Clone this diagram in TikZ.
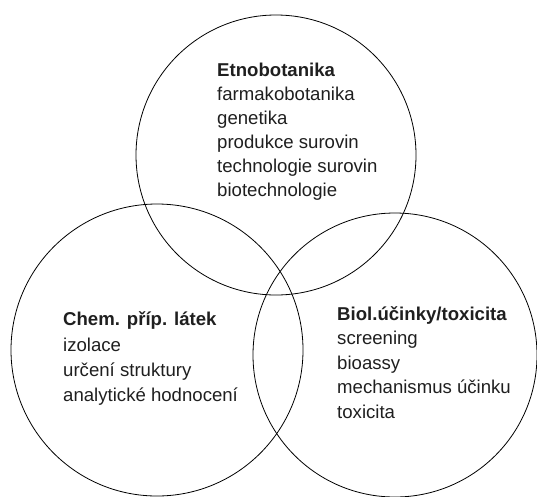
\documentclass[tikz,border=0pt]{standalone}
\usepackage{fontspec}
\setmainfont{Liberation Sans}
\begin{document}
\begin{tikzpicture}[x=1pt,y=-1pt,
  venn/.style={circle,draw=black,line width=0.8pt,inner sep=0pt},
  txt/.style={anchor=base west,inner sep=0pt,font=\fontsize{18.6}{22}\selectfont,text=black!88},
  ttl/.style={txt,font=\fontsize{18.6}{22}\selectfont\bfseries}]
\useasboundingbox (0,0) rectangle (537,496);
\node[venn,minimum size=280pt] (ctop) at (276,155) {};
\node[venn,minimum size=292pt] (cleft) at (157,350) {};
\node[venn,minimum size=284pt] (cright) at (395,355) {};
% top block
\node[ttl] (t0) at (217,76) {Etnobotanika};
\node[txt] (t1) at (217,100) {farmakobotanika};
\node[txt] (t2) at (217,124.2) {genetika};
\node[txt] (t3) at (217,148.4) {produkce surovin};
\node[txt] (t4) at (217,172.6) {technologie surovin};
\node[txt] (t5) at (217,196.8) {biotechnologie};
% left block
\node[ttl] (l0) at (63,325.7) {Chem. příp. látek};
\node[txt] (l1) at (63,351) {izolace};
\node[txt] (l2) at (63,376.3) {určení struktury};
\node[txt] (l3) at (63,401.6) {analytické hodnocení};
% right block
\node[ttl] (r0) at (337,320) {Biol.účinky/toxicita};
\node[txt] (r1) at (337,344.6) {screening};
\node[txt] (r2) at (337,369.2) {bioassy};
\node[txt] (r3) at (337,393.8) {mechanismus účinku};
\node[txt] (r4) at (337,418.4) {toxicita};
\end{tikzpicture}
\end{document}
